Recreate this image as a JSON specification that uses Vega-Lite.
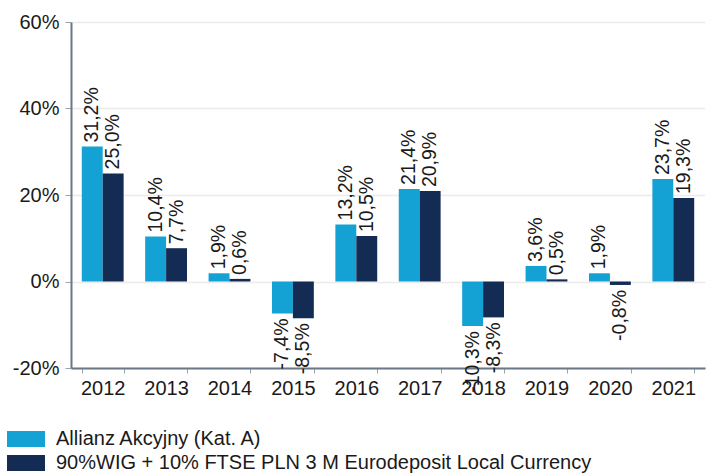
{
  "$schema": "https://vega.github.io/schema/vega-lite/v6.json",
  "width": 634,
  "height": 346,
  "autosize": {"type": "none"},
  "padding": {"left": 71, "top": 22, "right": 5, "bottom": 106},
  "config": {
    "locale": {"number": {"decimal": ",", "thousands": " ", "grouping": [3], "currency": ["", " zł"], "minus": "-"}},
    "view": {"stroke": null},
    "font": "Liberation Sans",
    "axis": {"labelFont": "Liberation Sans", "labelFontSize": 20, "labelColor": "#1a1a1a", "domainColor": "#6b7785", "domainWidth": 2, "tickColor": "#9aa4ae", "title": null},
    "legend": {"labelFont": "Liberation Sans", "labelFontSize": 20, "labelColor": "#1a1a1a"}
  },
  "data": {
    "values": [
      {"year": "2012", "series": "Allianz Akcyjny (Kat. A)", "value": 0.312},
      {"year": "2012", "series": "90%WIG + 10% FTSE PLN 3 M Eurodeposit Local Currency", "value": 0.250},
      {"year": "2013", "series": "Allianz Akcyjny (Kat. A)", "value": 0.104},
      {"year": "2013", "series": "90%WIG + 10% FTSE PLN 3 M Eurodeposit Local Currency", "value": 0.077},
      {"year": "2014", "series": "Allianz Akcyjny (Kat. A)", "value": 0.019},
      {"year": "2014", "series": "90%WIG + 10% FTSE PLN 3 M Eurodeposit Local Currency", "value": 0.006},
      {"year": "2015", "series": "Allianz Akcyjny (Kat. A)", "value": -0.074},
      {"year": "2015", "series": "90%WIG + 10% FTSE PLN 3 M Eurodeposit Local Currency", "value": -0.085},
      {"year": "2016", "series": "Allianz Akcyjny (Kat. A)", "value": 0.132},
      {"year": "2016", "series": "90%WIG + 10% FTSE PLN 3 M Eurodeposit Local Currency", "value": 0.105},
      {"year": "2017", "series": "Allianz Akcyjny (Kat. A)", "value": 0.214},
      {"year": "2017", "series": "90%WIG + 10% FTSE PLN 3 M Eurodeposit Local Currency", "value": 0.209},
      {"year": "2018", "series": "Allianz Akcyjny (Kat. A)", "value": -0.103},
      {"year": "2018", "series": "90%WIG + 10% FTSE PLN 3 M Eurodeposit Local Currency", "value": -0.083},
      {"year": "2019", "series": "Allianz Akcyjny (Kat. A)", "value": 0.036},
      {"year": "2019", "series": "90%WIG + 10% FTSE PLN 3 M Eurodeposit Local Currency", "value": 0.005},
      {"year": "2020", "series": "Allianz Akcyjny (Kat. A)", "value": 0.019},
      {"year": "2020", "series": "90%WIG + 10% FTSE PLN 3 M Eurodeposit Local Currency", "value": -0.008},
      {"year": "2021", "series": "Allianz Akcyjny (Kat. A)", "value": 0.237},
      {"year": "2021", "series": "90%WIG + 10% FTSE PLN 3 M Eurodeposit Local Currency", "value": 0.193}
    ]
  },
  "encoding": {
    "x": {
      "field": "year", "type": "ordinal",
      "scale": {"paddingInner": 0.34, "paddingOuter": 0.17},
      "axis": {"labelAngle": 0, "tickBand": "extent", "tickSize": 5, "labelPadding": 5, "grid": false}
    },
    "xOffset": {
      "field": "series", "type": "nominal",
      "sort": ["Allianz Akcyjny (Kat. A)", "90%WIG + 10% FTSE PLN 3 M Eurodeposit Local Currency"]
    },
    "y": {
      "field": "value", "type": "quantitative",
      "scale": {"domain": [-0.2, 0.6], "nice": false, "zero": false},
      "axis": {"values": [-0.2, 0, 0.2, 0.4, 0.6], "format": ".0%", "grid": true, "gridColor": "#ebebeb", "gridWidth": 1.5, "tickSize": 6, "labelPadding": 6}
    }
  },
  "layer": [
    {
      "mark": {"type": "bar"},
      "encoding": {
        "color": {
          "field": "series", "type": "nominal",
          "scale": {"domain": ["Allianz Akcyjny (Kat. A)", "90%WIG + 10% FTSE PLN 3 M Eurodeposit Local Currency"], "range": ["#14a1d4", "#142b54"]},
          "legend": {
            "orient": "none", "legendX": -55, "legendY": 407, "title": null, "padding": 0,
            "symbolType": "M-2.375,-1H2.375V1H-2.375Z", "symbolSize": 256, "symbolStrokeWidth": 0,
            "labelOffset": 20, "rowPadding": 4, "labelLimit": 700
          }
        }
      }
    },
    {
      "transform": [{"filter": "datum.value >= 0"}],
      "mark": {"type": "text", "angle": -90, "align": "left", "baseline": "middle", "dx": 4, "fontSize": 19.5, "color": "#1a1a1a"},
      "encoding": {"text": {"field": "value", "type": "quantitative", "format": ".1%"}}
    },
    {
      "transform": [{"filter": "datum.value < 0"}],
      "mark": {"type": "text", "angle": -90, "align": "right", "baseline": "middle", "dx": -5, "fontSize": 19.5, "color": "#1a1a1a"},
      "encoding": {"text": {"field": "value", "type": "quantitative", "format": ".1%"}}
    }
  ]
}
